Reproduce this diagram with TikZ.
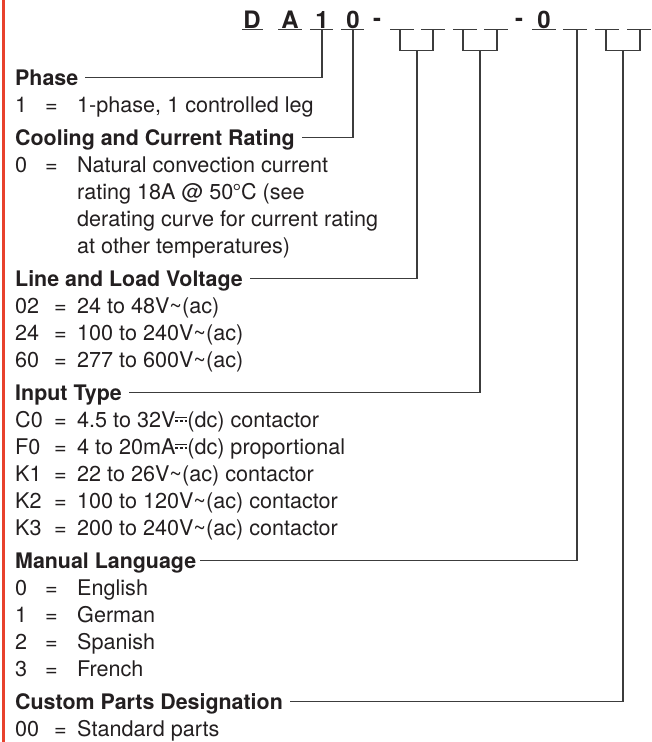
\documentclass[tikz,border=0pt]{standalone}
\usepackage{fontspec}
\setmainfont{TeX Gyre Heros}
\newcommand{\dcsym}{\leavevmode\hbox{\rlap{\rule[0.40em]{0.55em}{0.06em}}\rule[0.25em]{0.13em}{0.06em}\kern0.08em\rule[0.25em]{0.13em}{0.06em}\kern0.08em\rule[0.25em]{0.13em}{0.06em}}}
\newcommand{\acsym}{\textasciitilde}
\definecolor{ink}{RGB}{35,31,32}
\definecolor{wire}{RGB}{60,60,60}
\definecolor{redbar}{RGB}{232,65,45}
\begin{document}
\begin{tikzpicture}[x=1pt,y=-1pt,
  txt/.style={anchor=base west,inner sep=0pt,font=\fontsize{21.6}{25}\selectfont,text=ink},
  head/.style={txt,font=\fontsize{21.4}{25}\selectfont\bfseries},
  code/.style={anchor=base,inner sep=0pt,font=\fontsize{24}{28}\selectfont\bfseries,text=ink},
  blank/.style={draw=wire,line width=1.2pt},
  wirel/.style={draw=wire,line width=1.1pt}]
\useasboundingbox (0,0) rectangle (651,742);
\fill[redbar] (1.5,0) rectangle (4.5,742);
% ---- top code row
\node[code] (cD) at (252,28) {D};
\node[code] (cA) at (290,28) {A};
\node[code] (c1) at (322,28) {1};
\node[code] (c0) at (353,28) {0};
\node[code] (cd1) at (377,26) {-};
\node[code] (cd2) at (519,26) {-};
\node[code] (c0b) at (544,28) {0};
\foreach \a/\b in {242/263,278/302,310/333,341/364,390/414,421/445,453/477,484/508,532/556,563/587,595/619,627/651}
  \draw[blank] (\a,29.5) -- (\b,29.5);
% tick coordinates
\coordinate (tP) at (322,29.5);
\coordinate (tC) at (353,29.5);
\coordinate (tLa) at (400,29.5);
\coordinate (tLb) at (433,29.5);
\coordinate (tIa) at (463,29.5);
\coordinate (tIb) at (497,29.5);
\coordinate (tM) at (577,29.5);
\coordinate (tXa) at (606,29.5);
\coordinate (tXb) at (640,29.5);
\coordinate (sL) at (417,50.5);
\coordinate (sI) at (480,50.5);
\coordinate (sX) at (623,50.5);
\draw[wirel] (tLa) |- (sL) -| (tLb);
\draw[wirel] (tIa) |- (sI) -| (tIb);
\draw[wirel] (tXa) |- (sX) -| (tXb);
% ---- text rows
\def\lx{15}
\def\ea{45}
\def\eb{54}
\def\tx{77}
% Phase
\node[head] (hP) at (\lx,85) {Phase};
\node[txt] (p1l) at (\lx,112) {1};
\node[txt] (p1e) at (\ea,112) {=};
\node[txt] (p1t) at (\tx,112) {1-phase, 1 controlled leg};
% Cooling
\node[head] (hC) at (\lx,145) {Cooling and Current Rating};
\node[txt] (c0l) at (\lx,172) {0};
\node[txt] (c0e) at (\ea,172) {=};
\node[txt] (c0t) at (\tx,172) {Natural convection current};
\node[txt] (c0t2) at (\tx,199) {rating 18A @ 50\kern-0.04em°\kern-0.01emC (see};
\node[txt] (c0t3) at (\tx,226) {derating curve for current rating};
\node[txt] (c0t4) at (\tx,253) {at other temperatures)};
% Line and load voltage
\node[head] (hL) at (\lx,286) {Line and Load Voltage};
\node[txt] (l02l) at (\lx,313) {02};
\node[txt] (l02e) at (\eb,313) {=};
\node[txt] (l02t) at (\tx,313) {24 to 48V\acsym(ac)};
\node[txt] (l24l) at (\lx,340) {24};
\node[txt] (l24e) at (\eb,340) {=};
\node[txt] (l24t) at (\tx,340) {100 to 240V\acsym(ac)};
\node[txt] (l60l) at (\lx,367) {60};
\node[txt] (l60e) at (\eb,367) {=};
\node[txt] (l60t) at (\tx,367) {277 to 600V\acsym(ac)};
% Input type
\node[head] (hI) at (\lx,400) {Input Type};
\node[txt] (iC0l) at (\lx,427) {C0};
\node[txt] (iC0e) at (\eb,427) {=};
\node[txt] (iC0t) at (\tx,427) {4.5 to 32V\dcsym(dc) contactor};
\node[txt] (iF0l) at (\lx,454) {F0};
\node[txt] (iF0e) at (\eb,454) {=};
\node[txt] (iF0t) at (\tx,454) {4 to 20mA\dcsym(dc) proportional};
\node[txt] (iK1l) at (\lx,481) {K1};
\node[txt] (iK1e) at (\eb,481) {=};
\node[txt] (iK1t) at (\tx,481) {22 to 26V\acsym(ac) contactor};
\node[txt] (iK2l) at (\lx,508) {K2};
\node[txt] (iK2e) at (\eb,508) {=};
\node[txt] (iK2t) at (\tx,508) {100 to 120V\acsym(ac) contactor};
\node[txt] (iK3l) at (\lx,535) {K3};
\node[txt] (iK3e) at (\eb,535) {=};
\node[txt] (iK3t) at (\tx,535) {200 to 240V\acsym(ac) contactor};
% Manual language
\node[head] (hM) at (\lx,568) {Manual Language};
\node[txt] (m0l) at (\lx,595) {0};
\node[txt] (m0e) at (\ea,595) {=};
\node[txt] (m0t) at (\tx,595) {English};
\node[txt] (m1l) at (\lx,622) {1};
\node[txt] (m1e) at (\ea,622) {=};
\node[txt] (m1t) at (\tx,622) {German};
\node[txt] (m2l) at (\lx,649) {2};
\node[txt] (m2e) at (\ea,649) {=};
\node[txt] (m2t) at (\tx,649) {Spanish};
\node[txt] (m3l) at (\lx,676) {3};
\node[txt] (m3e) at (\ea,676) {=};
\node[txt] (m3t) at (\tx,676) {French};
% Custom
\node[head] (hX) at (\lx,709) {Custom Parts Designation};
\node[txt] (x00l) at (\lx,736) {00};
\node[txt] (x00e) at (\eb,736) {=};
\node[txt] (x00t) at (\tx,736) {Standard parts};
% ---- connectors
\draw[wirel] (tP) |- ([xshift=7pt,yshift=7.5pt]hP.base east);
\draw[wirel] (tC) |- ([xshift=7pt,yshift=7.5pt]hC.base east);
\draw[wirel] (sL) |- ([xshift=7pt,yshift=7.5pt]hL.base east);
\draw[wirel] (sI) |- ([xshift=7pt,yshift=7.5pt]hI.base east);
\draw[wirel] (tM) |- ([xshift=4pt,yshift=7.5pt]hM.base east);
\draw[wirel] (sX) |- ([xshift=7pt,yshift=7.5pt]hX.base east);
\end{tikzpicture}
\end{document}
